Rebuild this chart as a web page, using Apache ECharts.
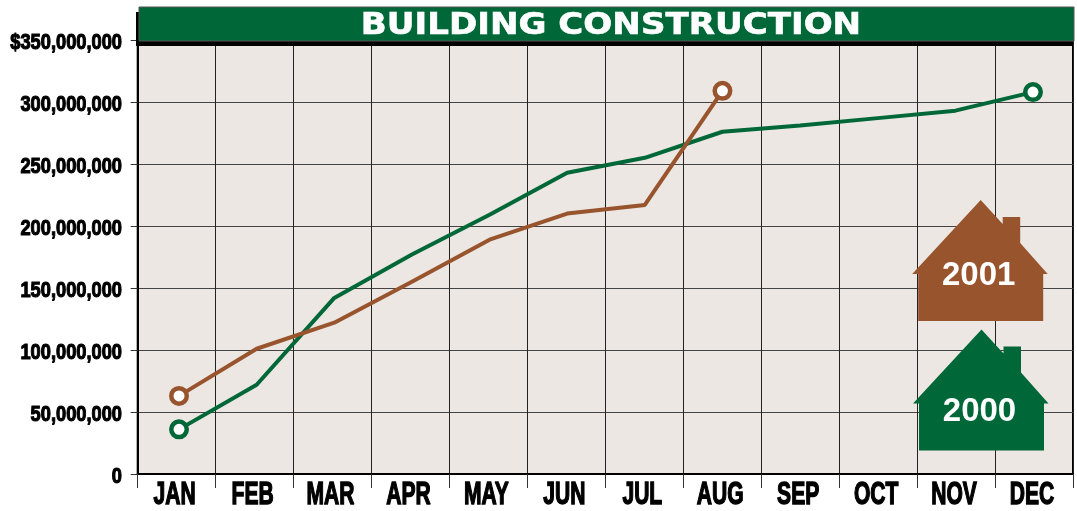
<!DOCTYPE html>
<html>
<head>
<meta charset="utf-8">
<style>
    html, body { margin: 0; padding: 0; background: #fff; }
    #main { width: 1077px; height: 511px; }
</style>
</head>
<body>
<div id="main"></div>
<script src="https://cdn.jsdelivr.net/npm/echarts@6/dist/echarts.min.js"></script>
<script>
    const titleText = 'BUILDING CONSTRUCTION'
    const months = ['JAN', 'FEB', 'MAR', 'APR', 'MAY', 'JUN', 'JUL', 'AUG', 'SEP', 'OCT', 'NOV', 'DEC']
    const values2000 = [36000000, 72000000, 142000000, 177000000, 209000000, 243000000, 255000000, 276000000, 281000000, 287000000, 293000000, 308000000]
    const values2001 = [63000000, 101000000, 122000000, 155000000, 189000000, 210000000, 217000000, 309000000]
    const yTicks = [0, 50000000, 100000000, 150000000, 200000000, 250000000, 300000000, 350000000]
    const yearLabels = ['2001', '2000']

    const green = '#006838'
    const brown = '#98542d'
    const labelFont = '"Liberation Sans", Arial, sans-serif'

    // only the first and last point of a line gets a ring
    function lineSeries(name, values, color) {
        return {
            name: name,
            type: 'line',
            xAxisIndex: 1,
            yAxisIndex: 1,
            data: values,
            symbol: 'circle',
            symbolSize: (v, p) => (p.dataIndex === 0 || p.dataIndex === values.length - 1) ? 15.5 : 0,
            showSymbol: true,
            showAllSymbol: true,
            lineStyle: { color: color, width: 4 },
            itemStyle: { color: '#fff', borderColor: color, borderWidth: 4.5 },
            z: 4
        }
    }

    // no condensed font on the box, so the axis labels are squeezed text placed through the axis scales
    function monthLabel(params, api) {
        const pos = api.coord([api.value(0), 0])
        return {
            type: 'text',
            x: pos[0] - 2,
            y: pos[1] + 21,
            scaleX: 0.68,
            style: {
                text: months[params.dataIndex],
                x: 0,
                y: 0,
                align: 'center',
                verticalAlign: 'middle',
                fill: '#000',
                stroke: '#000',
                lineWidth: 1.4,
                font: 'bold 31px ' + labelFont
            }
        }
    }

    function moneyLabel(params, api) {
        const v = api.value(1)
        const pos = api.coord([0, v])
        const s = v.toLocaleString('en-US')
        return {
            type: 'text',
            x: 122,
            y: pos[1] + 3,
            scaleX: 0.83,
            style: {
                text: v === 350000000 ? '$' + s : s,
                x: 0,
                y: 0,
                align: 'right',
                verticalAlign: 'middle',
                fill: '#000',
                stroke: '#000',
                lineWidth: 1.1,
                font: 'bold 22px ' + labelFont
            }
        }
    }

    // house shape, x/y is the top of the roof
    function house(x, y, color, label, labelY) {
        return {
            type: 'group',
            x: x,
            y: y,
            z: 10,
            children: [
                {
                    type: 'polygon',
                    z: 10,
                    shape: {
                        points: [[0, 0], [22, 24], [22, 17], [39.5, 17], [39.5, 43], [67, 74], [62.5, 74], [62.5, 121], [-62.5, 121], [-62.5, 74], [-68.5, 74]]
                    },
                    style: { fill: color }
                },
                {
                    type: 'text',
                    z: 11,
                    style: {
                        text: label,
                        x: -2,
                        y: labelY,
                        align: 'center',
                        verticalAlign: 'middle',
                        fill: '#fff',
                        font: 'bold 33px ' + labelFont
                    }
                }
            ]
        }
    }

    const myChart = echarts.init(document.getElementById('main'))
    const option = {
        backgroundColor: '#fff',
        animation: false,
        grid: [
            {
                left: 137.7,
                top: 40,
                width: 935.3,
                height: 434,
                show: true,
                outerBoundsMode: 'none',
                backgroundColor: '#ece7e3',
                borderColor: '#000',
                borderWidth: 2
            },
            // ring positions sit a little off the month centres
            { left: 140.2, top: 40, width: 931.6, height: 434, outerBoundsMode: 'none' }
        ],
        xAxis: [
            {
                type: 'category',
                gridIndex: 0,
                data: months,
                axisLine: { show: true, lineStyle: { color: '#000', width: 2 } },
                axisTick: { show: true, length: 14, lineStyle: { color: '#333', width: 1 } },
                axisLabel: { show: false },
                splitLine: { show: true, interval: 0, lineStyle: { color: '#222', width: 1 } }
            },
            {
                type: 'category',
                gridIndex: 1,
                data: months,
                show: false
            }
        ],
        yAxis: [
            {
                type: 'value',
                gridIndex: 0,
                min: 0,
                max: 350000000,
                interval: 50000000,
                axisLine: { show: true, lineStyle: { color: '#000', width: 2 } },
                axisTick: { show: true, length: 7, lineStyle: { color: '#333', width: 1 } },
                axisLabel: { show: false },
                splitLine: { show: true, lineStyle: { color: '#444', width: 1 } }
            },
            {
                type: 'value',
                gridIndex: 1,
                min: 0,
                max: 350000000,
                interval: 50000000,
                show: false
            }
        ],
        series: [
            lineSeries('2000', values2000, green),
            lineSeries('2001', values2001, brown),
            {
                type: 'custom',
                xAxisIndex: 0,
                yAxisIndex: 0,
                silent: true,
                clip: false,
                data: months.map(m => [m, 0]),
                renderItem: monthLabel,
                z: 6
            },
            {
                type: 'custom',
                xAxisIndex: 0,
                yAxisIndex: 0,
                silent: true,
                clip: false,
                data: yTicks.map(v => [months[0], v]),
                renderItem: moneyLabel,
                z: 6
            }
        ],
        graphic: [
            // title banner with its black shadow
            { type: 'rect', z: 5, shape: { x: 136, y: 12, width: 4, height: 34 }, style: { fill: '#000' } },
            { type: 'rect', z: 5, shape: { x: 136, y: 41, width: 937, height: 5 }, style: { fill: '#000' } },
            { type: 'rect', z: 5, shape: { x: 139, y: 7, width: 935, height: 34 }, style: { fill: green, stroke: '#555', lineWidth: 1 } },
            {
                type: 'text',
                z: 6,
                x: 611,
                y: 26,
                scaleX: 1.1,
                style: {
                    text: titleText,
                    x: 0,
                    y: 0,
                    align: 'center',
                    verticalAlign: 'middle',
                    fill: '#fff',
                    stroke: '#fff',
                    lineWidth: 0.6,
                    font: 'bold 31px "DejaVu Sans", sans-serif'
                }
            },
            house(980.7, 200, brown, yearLabels[0], 76),
            house(981.5, 329.5, green, yearLabels[1], 82)
        ]
    }
    option && myChart.setOption(option)
</script>
</body>
</html>
